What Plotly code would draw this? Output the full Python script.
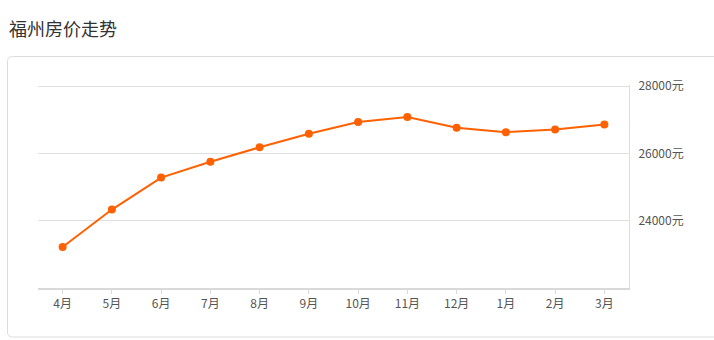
import plotly.graph_objects as go

months = ["4月", "5月", "6月", "7月", "8月", "9月", "10月", "11月", "12月", "1月", "2月", "3月"]
prices = [23220, 24330, 25280, 25750, 26180, 26580, 26930, 27080, 26760, 26630, 26710, 26860]
y_ticks = [24000, 26000, 28000]
y_tick_labels = ["24000元", "26000元", "28000元"]
title_text = "福州房价走势"

W, H = 714, 340
L, R, T, B = 38, 85, 85, 52
pw = W - L - R
ph = H - T - B

def px_x(x):
    return (x - L) / pw

def px_y(y):
    return (H - B - y) / ph

fig = go.Figure()
fig.add_trace(go.Scatter(
    x=months, y=prices, mode="lines+markers",
    line=dict(color="#ff6000", width=2),
    marker=dict(color="#ff6000", size=8),
    hoverinfo="x+y",
))

# rounded panel border
x0, x1 = px_x(7.5), px_x(730)
y0, y1 = px_y(56.5), px_y(337)
rx = 5 / pw
ry = 5 / ph
path = (f"M {x0+rx},{y0} L {x1},{y0} L {x1},{y1} L {x0+rx},{y1} "
        f"Q {x0},{y1} {x0},{y1+ry} L {x0},{y0-ry} Q {x0},{y0} {x0+rx},{y0} Z")
fig.add_shape(type="path", xref="paper", yref="paper", path=path,
              line=dict(color="#dddddd", width=1), layer="below")

fig.add_annotation(text=title_text, xref="paper", yref="paper",
                   x=px_x(7), y=px_y(28), xanchor="left", yanchor="middle",
                   showarrow=False,
                   font=dict(family="Noto Sans CJK SC", size=18, color="#333333"))

fig.update_layout(
    width=W, height=H,
    margin=dict(l=L, r=R, t=T, b=B, pad=0),
    paper_bgcolor="white", plot_bgcolor="white",
    showlegend=False,
    font=dict(family="Noto Sans CJK SC", size=12, color="#555555"),
    xaxis=dict(
        type="category", range=[-0.5, len(months) - 0.5],
        showline=True, linecolor="#d9d9d9", linewidth=2,
        ticks="outside", ticklen=4, tickcolor="#d9d9d9", tickwidth=1,
        showgrid=False, zeroline=False, fixedrange=True,
        tickfont=dict(family="Noto Sans CJK SC", size=12, color="#555555"),
    ),
    yaxis=dict(
        side="right", range=[22000, 28030],
        tickvals=y_ticks, ticktext=y_tick_labels,
        showgrid=True, gridcolor="#e0e0e0", gridwidth=1,
        showline=True, linecolor="#dddddd", linewidth=1,
        ticks="", ticklabelstandoff=6, zeroline=False, fixedrange=True,
        tickfont=dict(family="Noto Sans CJK SC", size=12, color="#555555"),
    ),
)

fig.write_html("out.html", config={"displayModeBar": False})
